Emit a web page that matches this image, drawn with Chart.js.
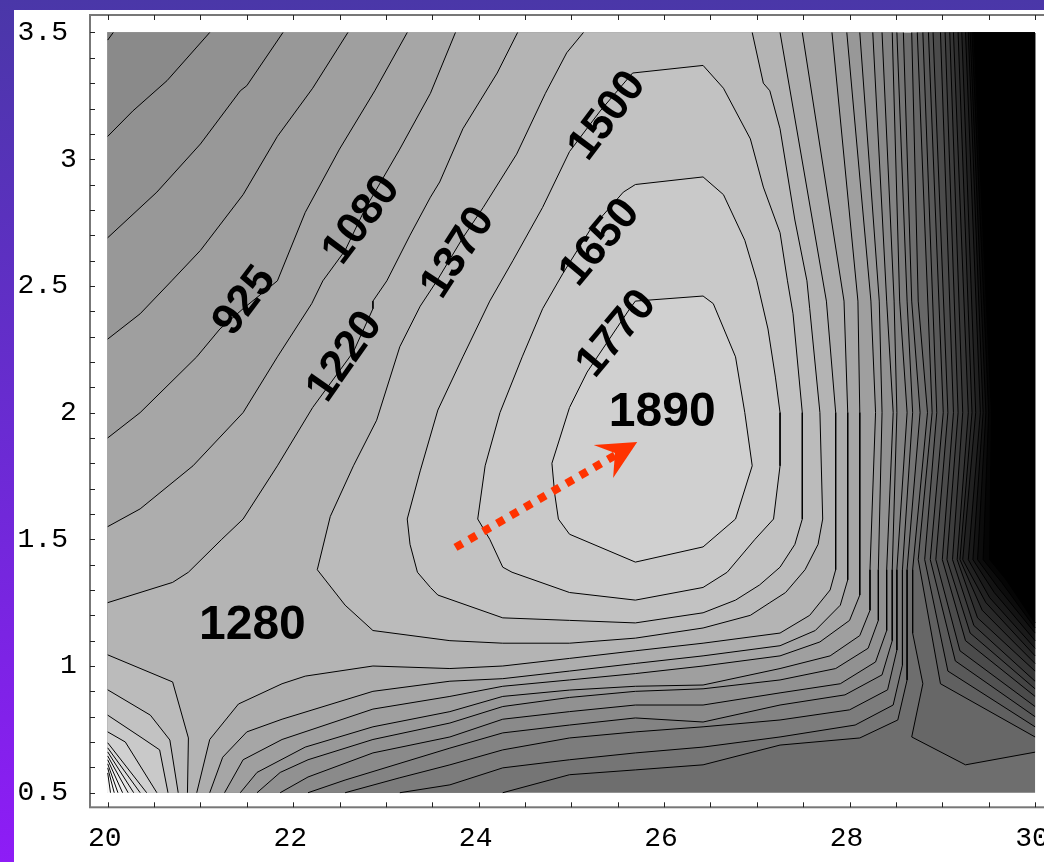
<!DOCTYPE html>
<html><head><meta charset="utf-8">
<script src="https://cdn.jsdelivr.net/npm/chart.js@4.4.1/dist/chart.umd.min.js"></script>
<style>
html,body{margin:0;padding:0;width:1044px;height:862px;overflow:hidden;}
body{position:relative;background:linear-gradient(to bottom,#4a37a8 0%,#6a2bd2 50%,#8e1cf6 100%);}
#panel{position:absolute;left:14px;top:10px;width:1100px;height:900px;background:#fff;}
#c{position:absolute;left:0;top:0;}
</style></head><body>
<div id="panel"></div>
<canvas id="c" width="1070" height="862" style="width:1070px;height:862px"></canvas>
<script>
// ---------- axis ticks ----------
const xTickValues = [20,22,24,26,28,30];
const xTickLabels = ['20','22','24','26','28','30'];
const yTickValues = [0.5,1,1.5,2,2.5,3,3.5];
const yTickLabels = ['0.5','1','1.5','2','2.5','3','3.5'];

// ---------- contour lines (x, y) ----------
// upper-left family (top edge -> left edge)
const c360  = [[20.06,3.5],[20.0,3.47]];
const c500  = [[21.10,3.5],[20.64,3.31],[20.27,3.19],[20.00,3.09]];
const c640  = [[21.89,3.5],[21.50,3.29],[21.43,3.27],[21.00,3.06],[20.53,2.87],[20.00,2.69]];
const c780  = [[22.59,3.5],[22.21,3.28],[21.83,3.09],[21.46,2.86],[21.00,2.64],[20.69,2.52],[20.35,2.39],[20.00,2.29]];
const c925  = [[23.23,3.5],[22.88,3.27],[22.50,3.04],[22.13,2.79],[21.83,2.52],[21.46,2.41],[21.21,2.33],[20.96,2.22],[20.35,2.00],[20.00,1.90]];
const c1080 = [[23.75,3.5],[23.48,3.26],[23.15,3.04],[22.77,2.80],[22.56,2.64],[22.32,2.52],[22.20,2.43],[21.83,2.22],[21.46,2.00],[20.92,1.79],[20.35,1.62],[20.00,1.55]];
const c1220a = [[24.42,3.5],[24.20,3.34],[23.83,3.12],[23.58,2.91],[23.48,2.85],[23.26,2.70],[23.01,2.52],[22.86,2.44],[22.86,2.41],[22.65,2.24],[22.21,2.02],[21.83,1.79],[21.46,1.58],[21.23,1.50],[20.87,1.37],[20.70,1.33],[20.00,1.25]];
// inverted U around the peak (top edge -> top edge)
const c1370 = [[25.13,3.50],[24.95,3.42],[24.72,3.26],[24.41,3.02],[24.05,2.81],[23.83,2.69],[23.55,2.52],[23.37,2.42],[23.15,2.26],[22.90,1.97],[22.65,1.79],[22.40,1.59],[22.26,1.38],[22.56,1.24],[22.86,1.14],[23.69,1.10],[24.26,1.09],[24.98,1.09],[25.69,1.11],[26.42,1.15],[26.93,1.20],[27.14,1.25],[27.31,1.29],[27.52,1.38],[27.66,1.48],[27.71,1.58],[27.68,2.00],[27.57,2.41],[27.54,2.52],[27.41,2.76],[27.25,3.12],[27.14,3.27],[27.07,3.30],[26.95,3.50]];
// closed loops
const c1500 = [[25.66,3.34],[26.42,3.37],[26.64,3.28],[26.93,3.08],[27.07,2.89],[27.25,2.71],[27.33,2.52],[27.39,2.39],[27.49,2.00],[27.49,1.58],[27.41,1.48],[27.25,1.39],[27.03,1.32],[26.77,1.26],[26.42,1.21],[25.69,1.17],[24.98,1.18],[24.26,1.19],[23.56,1.28],[23.48,1.31],[23.34,1.37],[23.26,1.48],[23.23,1.58],[23.37,1.77],[23.56,2.01],[23.83,2.22],[24.12,2.44],[24.37,2.60],[24.69,2.81],[24.98,3.03],[25.31,3.19],[25.66,3.34]];
const c1650 = [[25.69,2.90],[26.42,2.93],[26.64,2.86],[26.87,2.68],[27.00,2.52],[27.12,2.33],[27.20,2.14],[27.25,2.00],[27.25,1.79],[27.18,1.58],[26.98,1.50],[26.68,1.37],[26.42,1.31],[25.69,1.26],[24.98,1.29],[24.36,1.37],[24.26,1.39],[24.12,1.50],[23.99,1.58],[24.07,1.79],[24.23,2.00],[24.47,2.22],[24.69,2.41],[24.91,2.55],[25.20,2.72],[25.56,2.87],[25.69,2.90]];
const c1770 = [[25.69,2.44],[26.42,2.46],[26.53,2.43],[26.77,2.22],[26.87,2.00],[26.95,1.79],[26.77,1.58],[26.42,1.47],[25.69,1.41],[24.98,1.52],[24.86,1.58],[24.82,1.68],[24.79,1.80],[24.98,2.02],[25.17,2.16],[25.63,2.41],[25.69,2.44]];
// right / bottom family (top edge -> down the right side -> bottom edge)
const c1220b = [[27.25,3.5],[27.75,2.44],[27.85,2.0],[27.85,1.38],[27.79,1.30],[27.57,1.20],[27.25,1.13],[26.42,1.09],[25.69,1.06],[24.98,1.03],[24.26,1.00],[23.69,0.99],[22.86,1.00],[22.13,0.96],[21.88,0.93],[21.41,0.85],[21.10,0.71],[20.96,0.50]];
const c1080b = [[27.49,3.5],[27.94,2.44],[27.98,2.0],[27.98,1.34],[27.90,1.24],[27.63,1.14],[27.25,1.08],[26.42,1.04],[25.69,1.01],[24.98,0.98],[24.26,0.95],[23.69,0.94],[22.86,0.90],[21.88,0.79],[21.50,0.74],[21.24,0.64],[21.10,0.50]];
const c925b  = [[27.81,3.5],[28.09,2.44],[28.11,2.0],[28.11,1.38],[28.11,1.28],[28.00,1.18],[27.68,1.095],[27.25,1.04],[26.42,1.00],[25.69,0.97],[24.98,0.945],[24.26,0.92],[23.69,0.88],[22.86,0.83],[21.88,0.71],[21.46,0.63],[21.26,0.50]];
const c780b  = [[27.97,3.5],[28.23,2.44],[28.28,2.0],[28.22,1.38],[28.22,1.22],[28.11,1.12],[27.79,1.04],[27.25,0.99],[26.42,0.925],[25.69,0.92],[24.98,0.905],[24.26,0.88],[23.69,0.82],[22.86,0.76],[22.13,0.68],[21.61,0.58],[21.43,0.50]];
const c640b  = [[28.11,3.5],[28.32,2.44],[28.35,2.0],[28.31,1.38],[28.31,1.18],[28.20,1.07],[27.85,0.99],[27.25,0.945],[26.42,0.91],[25.69,0.90],[24.98,0.876],[24.26,0.84],[23.69,0.775],[22.86,0.71],[22.16,0.63],[21.86,0.58],[21.61,0.50]];
const c500b  = [[28.25,3.5],[28.40,2.44],[28.47,2.0],[28.40,1.38],[28.40,1.14],[28.28,1.016],[27.90,0.93],[27.25,0.894],[26.42,0.846],[25.69,0.846],[24.98,0.82],[24.26,0.79],[23.69,0.72],[22.86,0.657],[22.16,0.562],[21.86,0.50]];
const c360b  = [[28.35,3.5],[28.48,2.44],[28.51,2.0],[28.46,1.38],[28.46,1.10],[28.35,0.965],[27.95,0.886],[27.25,0.846],[26.42,0.779],[25.69,0.795],[24.98,0.767],[24.26,0.736],[23.69,0.676],[22.56,0.55],[22.16,0.50]];
const c220b  = [[28.46,3.5],[28.54,2.44],[28.62,2.0],[28.51,1.38],[28.51,1.063],[28.41,0.906],[28.00,0.827],[27.25,0.787],[26.42,0.76],[25.69,0.74],[24.98,0.716],[24.26,0.669],[23.69,0.61],[23.15,0.559],[22.56,0.50]];
const c80b   = [[28.51,3.5],[28.62,2.44],[28.68,2.0],[28.57,1.38],[28.57,1.004],[28.47,0.846],[28.06,0.767],[27.25,0.72],[26.42,0.68],[25.69,0.657],[24.98,0.63],[24.26,0.598],[23.69,0.531],[23.15,0.50]];
const cm60b  = [[28.58,3.5],[28.67,2.44],[28.76,2.0],[28.62,1.38],[28.62,0.945],[28.52,0.787],[28.11,0.716],[27.25,0.688],[26.42,0.61],[25.69,0.59],[24.98,0.571],[24.26,0.50]];
// vertical stem
const stem = [[28.67,3.5],[28.74,2.44],[28.84,2.0],[28.68,1.38],[28.68,1.13],[28.79,0.93],[28.67,0.72],[29.25,0.61],[30,0.66]];
// steep lines toward the dark upper-right corner
const rSampleY = [3.5, 2.0, 1.42];
const rTopX   = [28.73,28.79,28.85,28.90,28.98,29.03,29.08,29.12,29.17,29.21,29.25,29.28,29.30,29.32,29.34];
const rMidX   = [28.89,28.94,29.01,29.06,29.12,29.17,29.22,29.28,29.32,29.36,29.41,29.44,29.47,29.50,29.53];
const rLowX   = [28.74,28.81,28.87,28.93,29.00,29.05,29.11,29.16,29.19,29.22,29.28,29.33,29.38,29.44,29.51];
const rElbowX = [28.98,29.06,29.14,29.19,29.25,29.30,29.34,29.38,29.43,29.47,29.51,29.56,29.60,29.64,29.69];
const rElbowY = [0.93,0.98,1.02,1.06,1.10,1.13,1.16,1.19,1.22,1.25,1.27,1.29,1.31,1.33,1.34];
const rEdgeY  = [0.72,0.76,0.80,0.84,0.88,0.91,0.94,0.98,1.01,1.04,1.07,1.10,1.13,1.15,1.17];
// fan at the lower-left corner (left edge -> bottom edge)
const fan = [
 [[20,1.044],[20.70,0.937],[20.87,0.716],[20.86,0.5]],
 [[20,0.906],[20.46,0.806],[20.67,0.708],[20.76,0.5]],
 [[20,0.806],[20.37,0.716],[20.56,0.669],[20.65,0.5]],
 [[20,0.74],[20.19,0.70],[20.53,0.5]],
 [[20,0.697],[20.42,0.5]],
 [[20,0.677],[20.35,0.5]],
 [[20,0.661],[20.28,0.5]],
 [[20,0.645],[20.22,0.5]],
 [[20,0.630],[20.16,0.5]],
 [[20,0.614],[20.11,0.5]],
 [[20,0.598],[20.07,0.5]],
 [[20,0.578],[20.03,0.5]]
];
// annotations
const contourLabelText  = ['925','1080','1220','1370','1500','1650','1770'];
const contourLabelX     = [21.48,22.74,22.56,23.78,25.39,25.31,25.49];
const contourLabelY     = [2.44,2.76,2.22,2.63,3.17,2.67,2.31];
const contourLabelAngle = [-53,-53,-55,-57,-53,-50,-50];
const regionLabelText = ['1280','1890'];
const regionLabelX = [21.56,25.98];
const regionLabelY = [1.16,2.00];
const arrowShaft = [[23.75,1.468],[25.48,1.833]];
const arrowHead  = [[25.71,1.884],[25.24,1.872],[25.47,1.841],[25.45,1.742]];

// ---------- build painter-ordered fills ----------
function grey(k){const v=Math.max(0,Math.min(248,Math.round(180+(k-25)*7)));return 'rgb('+v+','+v+','+v+')';}
const fills=[];
const addFill=(pts,k)=>fills.push({pts,k});
addFill([[20,0.5],[30,0.5],[30,3.5],[20,3.5]],15);
const rightLines = rTopX.map((_,i)=>[[rTopX[i],rSampleY[0]],[rMidX[i],rSampleY[1]],[rLowX[i],rSampleY[2]],[rElbowX[i],rElbowY[i]],[30,rEdgeY[i]]]);
[stem,...rightLines].forEach((l,i)=>addFill(l.concat([[30,3.5]]),14-i));
const bottomFamily=[cm60b,c80b,c220b,c360b,c500b,c640b,c780b,c925b,c1080b,c1220b];
bottomFamily.forEach((l,i)=>addFill(l.concat([[20,0.5],[20,3.5]]),16+i));
addFill(c1370,26);addFill(c1500,27);addFill(c1650,28);addFill(c1770,29);
const topLeftFamily=[c1220a,c1080,c925,c780,c640,c500,c360];
topLeftFamily.forEach((l,i)=>addFill(l.concat([[20,3.5]]),24-i));
fan.forEach((l,i)=>addFill(l.concat([[20,0.5]]),26+i));
const strokes=[stem,...rightLines,...bottomFamily,c1370,c1500,c1650,c1770,...topLeftFamily,...fan];

const P=a=>a.map(([x,y])=>({x,y}));
const datasets=[];
const total=fills.length+strokes.length+3;
let n=0;
fills.forEach(f=>datasets.push({data:P(f.pts),fill:'shape',backgroundColor:grey(f.k),borderWidth:0,pointRadius:0,order:total-(n++)}));
strokes.forEach(s=>datasets.push({data:P(s),fill:false,borderColor:'#000',borderWidth:1,pointRadius:0,order:total-(n++)}));
datasets.push({data:P(arrowShaft),fill:false,borderColor:'#ff3300',borderWidth:8,borderDash:[8,8],borderCapStyle:'butt',pointRadius:0,order:total-(n++)});
datasets.push({data:P(arrowHead),fill:'shape',backgroundColor:'#ff3300',borderWidth:0,pointRadius:0,order:total-(n++)});

const deco={
 id:'deco',
 afterDatasetsDraw(chart){
  const {ctx,scales:{x,y}}=chart;
  ctx.save();
  ctx.fillStyle='#000';ctx.textAlign='center';ctx.textBaseline='middle';
  ctx.font='bold 44px "Liberation Sans", Arial, sans-serif';
  contourLabelText.forEach((t,i)=>{
   ctx.save();
   ctx.translate(x.getPixelForValue(contourLabelX[i]),y.getPixelForValue(contourLabelY[i]));
   ctx.rotate(contourLabelAngle[i]*Math.PI/180);
   ctx.fillText(t,0,0);
   ctx.restore();
  });
  ctx.font='bold 48px "Liberation Sans", Arial, sans-serif';
  regionLabelText.forEach((t,i)=>ctx.fillText(t,x.getPixelForValue(regionLabelX[i]),y.getPixelForValue(regionLabelY[i])));
  ctx.restore();
 },
 afterDraw(chart){
  const {ctx,chartArea:a,scales:{x,y}}=chart;
  ctx.save();
  ctx.strokeStyle='#777';ctx.lineWidth=2;
  ctx.strokeRect(a.left,a.top,a.right-a.left,a.bottom-a.top);
  ctx.strokeStyle='#222';ctx.lineWidth=1;
  ctx.beginPath();
  for(let i=0;i<=20;i++){
   const px=Math.round(x.getPixelForValue(20+i*0.5))+0.5;
   ctx.moveTo(px,a.bottom);ctx.lineTo(px,a.bottom-5);
   ctx.moveTo(px,a.top);ctx.lineTo(px,a.top+5);
  }
  for(let i=0;i<=30;i++){
   const py=Math.round(y.getPixelForValue(0.5+i*0.1))+0.5;
   ctx.moveTo(a.left,py);ctx.lineTo(a.left+5,py);
   ctx.moveTo(a.right,py);ctx.lineTo(a.right-5,py);
  }
  ctx.stroke();
  ctx.restore();
 }
};

const noPad=s=>{s.paddingTop=0;s.paddingBottom=0;s.paddingLeft=0;s.paddingRight=0;};
const tickFont={family:'"Liberation Mono", monospace',size:28};
new Chart(document.getElementById('c'),{
 type:'line',
 data:{datasets},
 options:{
  responsive:false,animation:false,events:[],
  layout:{padding:{left:0,right:16.4,top:15,bottom:0}},
  plugins:{legend:{display:false},tooltip:{enabled:false}},
  elements:{line:{tension:0}},
  scales:{
   x:{type:'linear',min:19.809,max:30.2,
      grid:{display:false,drawTicks:false},border:{display:false},
      afterBuildTicks:s=>{s.ticks=xTickValues.map(v=>({value:v}));},
      afterFit:s=>{s.height=54.7;noPad(s);},
      ticks:{autoSkip:false,maxRotation:0,padding:14,labelOffset:-3,color:'#000',font:tickFont,
        callback:(v,i)=>xTickLabels[i]}},
   y:{type:'linear',position:'left',weight:0,min:0.4424,max:3.569,
      grid:{display:false,drawTicks:false},border:{display:false},
      afterBuildTicks:s=>{s.ticks=yTickValues.map(v=>({value:v}));},
      afterFit:s=>{s.width=20;noPad(s);},
      ticks:{autoSkip:false,mirror:true,crossAlign:'near',padding:-30,color:'#000',font:tickFont,
        callback:(v,i)=>yTickLabels[i].indexOf('.')<0?yTickLabels[i]:''}},
   y2:{type:'linear',position:'left',weight:1,min:0.4424,max:3.569,
      grid:{display:false,drawTicks:false},border:{display:false},
      afterBuildTicks:s=>{s.ticks=yTickValues.map(v=>({value:v}));},
      afterFit:s=>{s.width=70;noPad(s);},
      ticks:{autoSkip:false,padding:2,color:'#000',font:tickFont,
        callback:(v,i)=>yTickLabels[i].indexOf('.')>=0?yTickLabels[i]:''}}
  }
 },
 plugins:[deco]
});
</script></body></html>
